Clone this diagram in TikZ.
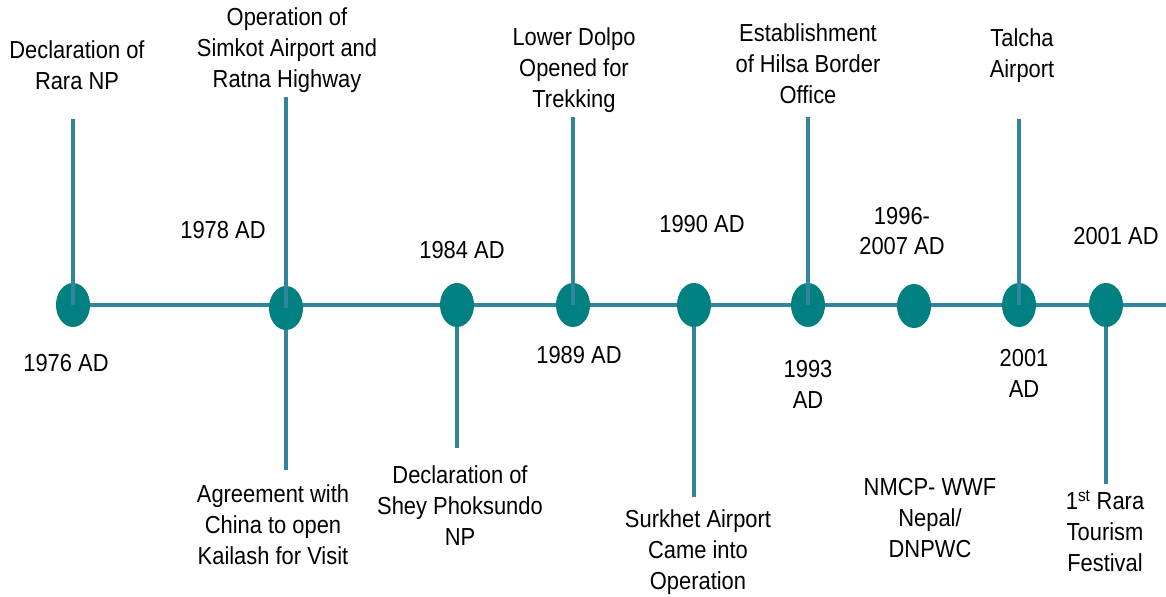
\documentclass[tikz,border=0pt]{standalone}
\usepackage{fontspec}
\setmainfont[FakeStretch=0.89]{Liberation Sans}
\usetikzlibrary{shapes.geometric}
\definecolor{stemblue}{HTML}{31859C}
\definecolor{dotteal}{HTML}{008080}

\begin{document}
\begin{tikzpicture}[x=0.025cm,y=-0.025cm,
		stem/.style={draw=stemblue, line width=3.3pt},
		yeardot/.style={ellipse, fill=dotteal, minimum width=0.85cm, minimum height=1.1cm, inner sep=0pt},
		txt/.style={align=center, inner sep=0pt, font=\fontsize{17.5}{22}\selectfont}]
		\useasboundingbox (0,0) rectangle (1166,597);
		% centres of the dots
		\coordinate (c76) at (73,305);
		\coordinate (c78) at (286,308);
		\coordinate (c84) at (457,305);
		\coordinate (c89) at (573,305);
		\coordinate (c90) at (694,305);
		\coordinate (c93) at (808,305);
		\coordinate (c96) at (914,306);
		\coordinate (c01) at (1019,305);
		\coordinate (c01b) at (1106,305);
		% free ends of the stems and of the time line
		\coordinate (lineend) at (1166,305);
		\coordinate (up76) at (73,119);
		\coordinate (up78) at (286,97);
		\coordinate (up89) at (573,117);
		\coordinate (up93) at (808,117);
		\coordinate (up01) at (1019,119);
		\coordinate (dn78) at (286,470);
		\coordinate (dn84) at (457,448);
		\coordinate (dn90) at (694,497);
		\coordinate (dn01) at (1106,484);
		% time line and stems going down, behind the dots
		\draw[stem] (c76) -- (lineend);
		\draw[stem] (c78) -- (dn78);
		\draw[stem] (c84) -- (dn84);
		\draw[stem] (c90) -- (dn90);
		\draw[stem] (c01b) -- (dn01);
		% the dots
		\node[yeardot] (d76) at (c76) {};
		\node[yeardot] (d78) at (c78) {};
		\node[yeardot] (d84) at (c84) {};
		\node[yeardot] (d89) at (c89) {};
		\node[yeardot] (d90) at (c90) {};
		\node[yeardot] (d93) at (c93) {};
		\node[yeardot] (d96) at (c96) {};
		\node[yeardot] (d01) at (c01) {};
		\node[yeardot] (d01b) at (c01b) {};
		% stems going up, over the dots
		\draw[stem] (d76.center) -- (up76);
		\draw[stem] (d78.center) -- (up78);
		\draw[stem] (d89.center) -- (up89);
		\draw[stem] (d93.center) -- (up93);
		\draw[stem] (d01.center) -- (up01);
		% events above
		\node[txt] (rara) at (77,65) {Declaration of\\Rara NP};
		\node[txt] (simkot) at (287,50) {Operation of\\Simkot Airport and\\Ratna Highway};
		\node[txt] (dolpo) at (574,70) {Lower Dolpo\\Opened for\\Trekking};
		\node[txt] (hilsa) at (808,64) {Establishment\\of Hilsa Border\\Office};
		\node[txt] (talcha) at (1022,56) {Talcha\\Airport};
		% years
		\node[txt] (y78) at (223,230) {1978 AD};
		\node[txt] (y84) at (462,250) {1984 AD};
		\node[txt] (y90) at (702,224) {1990 AD};
		\node[txt] (y96) at (902,231) {1996-\\2007 AD};
		\node[txt] (y01b) at (1116,236) {2001 AD};
		\node[txt] (y76) at (66,363) {1976 AD};
		\node[txt] (y89) at (579,355) {1989 AD};
		\node[txt] (y93) at (808,384) {1993\\AD};
		\node[txt] (y01) at (1024,373) {2001\\AD};
		% events below
		\node[txt] (kailash) at (273,525) {Agreement with\\China to open\\Kailash for Visit};
		\node[txt] (shey) at (460,506) {Declaration of\\Shey Phoksundo\\NP};
		\node[txt] (surkhet) at (698,552) {Surkhet Airport\\Came into\\Operation};
		\node[txt] (nmcp) at (930,518) {NMCP- WWF\\Nepal/\\DNPWC};
		\node[txt] (festival) at (1105,531) {1\textsuperscript{st} Rara\\Tourism\\Festival};
	\end{tikzpicture}
\end{document}
